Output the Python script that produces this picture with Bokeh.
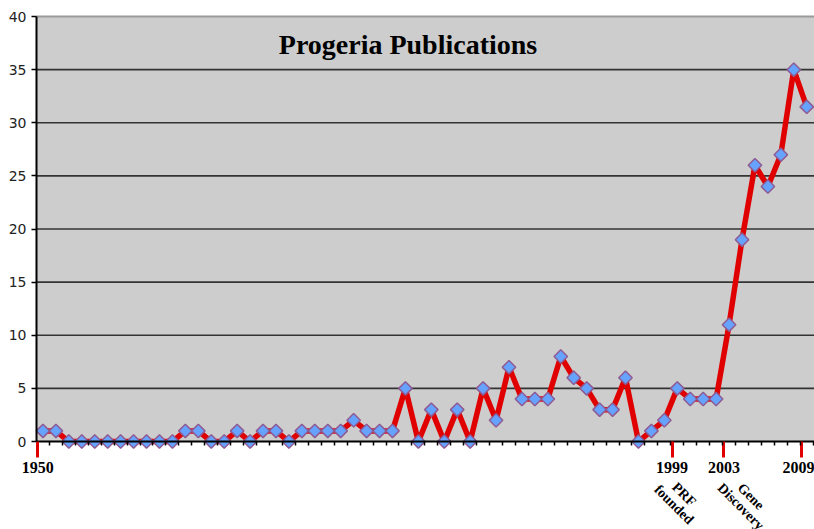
from bokeh.plotting import figure
from bokeh.models import Range1d, FixedTicker, CustomJSTickFormatter, Label, BoxAnnotation
from bokeh.embed import file_html
from bokeh.resources import INLINE

# ---- data ----
years = list(range(1950, 2010))
publications = [1, 1, 0, 0, 0, 0, 0, 0, 0, 0,
                0, 1, 1, 0, 0, 1, 0, 1, 1, 0,
                1, 1, 1, 1, 2, 1, 1, 1, 5, 0,
                3, 0, 3, 0, 5, 2, 7, 4, 4, 4,
                8, 6, 5, 3, 3, 6, 0, 1, 2, 5,
                4, 4, 4, 11, 19, 26, 24, 27, 35, 31.5]
label_years = [1950, 1999, 2003, 2009]
event_years = [1999, 2003]
event_texts = ["PRF\nfounded", "Gene\nDiscovery"]
y_ticks = [0, 5, 10, 15, 20, 25, 30, 35, 40]
title_text = "Progeria Publications"

# ---- style / layout ----
tick_shift = -0.4
event_dx = [7, 22]
event_dy = [-58, -60]
x_axis_start = years[0] - 0.5
x_start, x_end = 1946.72, 2009.6   # white margin left of the axis kept inside the frame
y_bottom, y_top = -8.28, 41.51      # white strips above/below the plot area

p = figure(width=814, height=529, output_backend="svg", toolbar_location=None,
           x_range=Range1d(x_start, x_end), y_range=Range1d(y_bottom, y_top),
           min_border=0)
p.background_fill_color = "white"
p.border_fill_color = "white"
p.outline_line_color = None
p.grid.grid_line_color = None

# grey plot area
p.add_layout(BoxAnnotation(left=x_axis_start, bottom=0, top=y_ticks[-1], fill_color="#CDCDCD",
                           fill_alpha=1.0, line_color=None, level="image"))

# gridlines
grid_levels = y_ticks[1:-1]
p.segment(x0=[x_axis_start] * len(grid_levels), x1=[x_end] * len(grid_levels),
          y0=grid_levels, y1=grid_levels, line_color="#333333", line_width=1.6)
p.segment(x0=[x_axis_start], x1=[x_end], y0=[y_ticks[-1]], y1=[y_ticks[-1]],
          line_color="#9A9A9A", line_width=2)

# y axis at the left edge of the plot area
ya = p.yaxis[0]
ya.fixed_location = x_axis_start
ya.ticker = FixedTicker(ticks=y_ticks)
ya.bounds = (0, y_ticks[-1])
ya.axis_line_color = "black"
ya.axis_line_width = 2
ya.major_tick_line_color = "black"
ya.major_tick_line_width = 1.5
ya.major_tick_out = 5
ya.major_tick_in = 0
ya.minor_tick_line_color = None
ya.major_label_text_font = "DejaVu Sans"
ya.major_label_text_font_size = "14px"
ya.major_label_text_color = "#222222"
ya.major_label_standoff = 5

# x axis drawn at y = 0
xa = p.xaxis[0]
xa.fixed_location = 0
xa.bounds = (x_axis_start, x_end)
xa.ticker = FixedTicker(ticks=[y + tick_shift for y in label_years],
                        minor_ticks=[y + 0.5 for y in years])
xa.formatter = CustomJSTickFormatter(code="return Math.round(tick).toString()")
xa.axis_line_color = "black"
xa.axis_line_width = 2
xa.major_tick_line_color = "#E00000"
xa.major_tick_line_width = 3
xa.major_tick_out = 16
xa.major_tick_in = 0
xa.minor_tick_line_color = "black"
xa.minor_tick_line_width = 1.5
xa.minor_tick_out = 4
xa.minor_tick_in = 0
xa.major_label_text_font = "Liberation Serif"
xa.major_label_text_font_style = "bold"
xa.major_label_text_font_size = "16px"
xa.major_label_text_color = "black"
xa.major_label_standoff = 4

# series
p.line(years, publications, line_color="#E00000", line_width=5.5)
p.scatter(years, publications, marker="square", angle=45, angle_units="deg", size=9.5,
          fill_color="#66A3FF", line_color="#8E5B93", line_width=1.5)

# title inside plot
p.add_layout(Label(x=1978.2, y=37.4, text=title_text, text_font="Liberation Serif",
                   text_font_style="bold", text_font_size="28px", text_color="black",
                   text_align="center", text_baseline="middle"))

# event annotations
for yr, txt, dx, dy in zip(event_years, event_texts, event_dx, event_dy):
    p.add_layout(Label(x=yr + tick_shift, y=0, x_offset=dx, y_offset=dy, text=txt,
                       angle=-45, angle_units="deg", text_align="center",
                       text_baseline="middle", text_font="Liberation Serif",
                       text_font_style="bold", text_font_size="14px",
                       text_color="black", text_line_height=0.95))

open("out.html", "w").write(file_html(p, INLINE))
